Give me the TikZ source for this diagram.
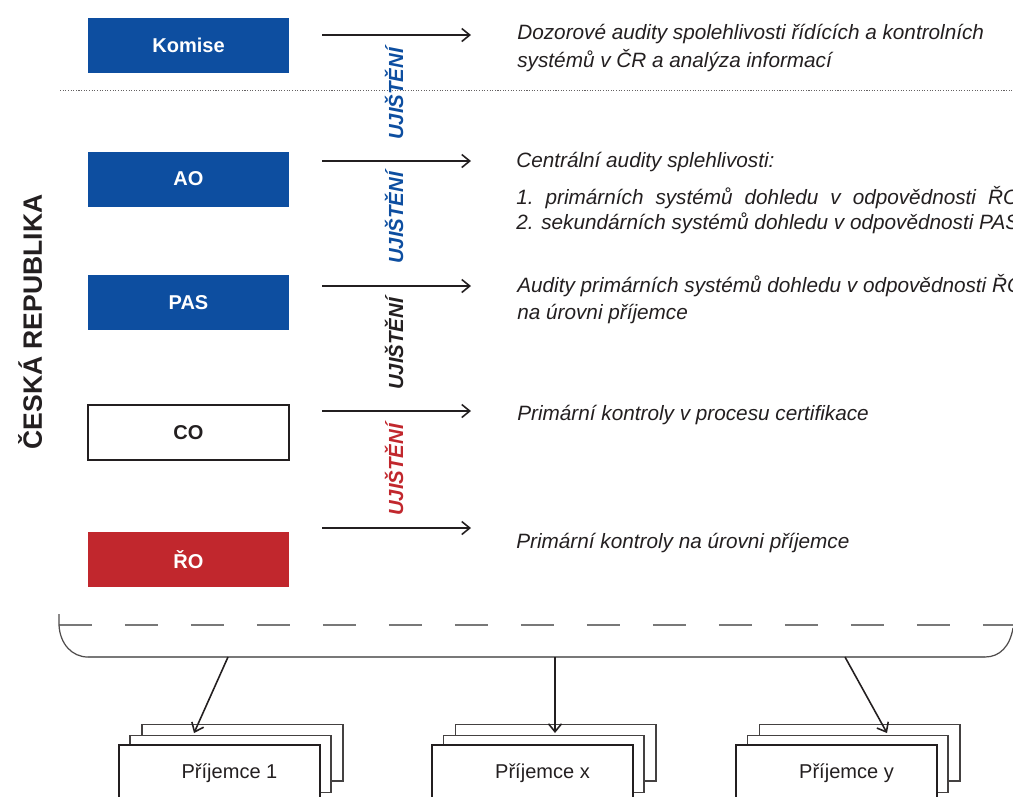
\documentclass[tikz,border=0pt]{standalone}
\usepackage{fontspec}
\setmainfont{Liberation Sans}
\usetikzlibrary{arrows.meta,positioning}
\definecolor{eublue}{RGB}{13,78,160}
\definecolor{crred}{RGB}{193,39,45}
\definecolor{ink}{RGB}{35,31,32}
\definecolor{rulegray}{RGB}{120,120,120}
\newlength\listw
\AtBeginDocument{\settowidth\listw{\fontsize{11.8}{14}\selectfont\itshape 2. sekundárních systémů dohledu v odpovědnosti PAS}}
\tikzset{
  orgbox/.style={minimum width=4.02cm, minimum height=1.1cm, inner sep=0pt,
    font=\fontsize{11.4}{13}\selectfont\bfseries},
  bluebox/.style={orgbox, fill=eublue, text=white},
  redbox/.style={orgbox, fill=crred, text=white},
  whitebox/.style={orgbox, draw=ink, line width=1pt, text=ink},
  flow/.style={-{Straight Barb[length=1.6mm,width=2.6mm]}, line width=0.9pt, ink},
  desc/.style={anchor=base west, inner sep=0pt, align=left, text=ink,
    font=\fontsize{11.8}{15.6}\selectfont\itshape},
  assur/.style={rotate=90, inner sep=0pt, font=\fontsize{11.6}{13}\selectfont\bfseries\itshape},
  sheet/.style={draw=ink!85, fill=white, line width=0.6pt, minimum width=4.02cm,
    minimum height=1.14cm, inner sep=0pt},
  frontsheet/.style={sheet, draw=ink, line width=1.2pt},
}
\begin{document}
\begin{tikzpicture}[x=0.02cm, y=-0.02cm]
  \useasboundingbox (0,0) rectangle (1013,796);
  % country label
  \node[rotate=90, font=\fontsize{15.1}{17}\selectfont\bfseries, text=ink] (cr) at (30,322) {ČESKÁ REPUBLIKA};
  % bodies
  \node[bluebox] (komise) at (188.5,45.5) {Komise};
  \node[bluebox] (ao) at (188.5,179) {AO};
  \node[bluebox] (pas) at (188.5,302.5) {PAS};
  \node[whitebox] (co) at (188.5,432.5) {CO};
  \node[redbox] (ro) at (188.5,559.5) {ŘO};
  % EU / CR divide
  \draw[ink!70, line width=0.5pt, dash pattern=on 0.6pt off 0.9pt] (60,90) coordinate (divl) -- (1013,90) coordinate (divr);
  % assurance arrows
  \foreach \y/\n in {35/komise, 161/ao, 286/pas, 411/co, 528/ro}
    \draw[flow] (322,\y) coordinate (\n-s) -- (471,\y) coordinate (\n-t);
  % assurance labels
  \foreach \y/\c [count=\i] in {94/eublue, 218/eublue, 344/ink, 470/crred}
    \node[assur, text=\c] (uj\i) at (394,\y) {UJIŠTĚNÍ};
  % descriptions (anchored at the last line)
  \node[desc] (dkomise) at (517,67) {Dozorové audity spolehlivosti řídících a kontrolních\\systémů v ČR a analýza informací};
  \node[desc] (dao) at (516,167) {Centrální audity splehlivosti:};
  \node[desc, font=\fontsize{11.8}{14.2}\selectfont\itshape] (dlist) at (516,229)
    {\makebox[\listw][s]{\frenchspacing 1. primárních systémů dohledu v odpovědnosti ŘO}\\2. sekundárních systémů dohledu v odpovědnosti PAS};
  \node[desc, font=\fontsize{11.8}{15.3}\selectfont\itshape] (dpas) at (517,319) {Audity primárních systémů dohledu v odpovědnosti ŘO\\na úrovni příjemce};
  \node[desc] (dco) at (517,420) {Primární kontroly v procesu certifikace};
  \node[desc] (dro) at (516,548) {Primární kontroly na úrovni příjemce};
  % recipients bracket
  \draw[rulegray, line width=0.8pt, dash pattern=on 0.66cm off 0.66cm] (59,625) -- (1013,625);
  \draw[ink!80, line width=0.7pt] (59,614) -- (59,625) .. controls (60,644) and (72,657) .. (88,657);
  \draw[rulegray, line width=0.8pt] (88,657) -- (985,657);
  \draw[ink!80, line width=0.7pt] (985,657) .. controls (1000,657) and (1010,646) .. (1013,628);
  % recipients
  \foreach \n/\x/\t in {p1/219.5/Příjemce 1, px/532.5/Příjemce x, py/836.5/Příjemce y} {
    \node[sheet] (\n-back) at (\x+23,752.5) {};
    \node[sheet] (\n-mid) at (\x+11,764) {};
    \node[frontsheet] (\n) at (\x,773.5) {};
    \node[font=\fontsize{11.4}{13}\selectfont, text=ink] (\n-lab) at (\x+10,773) {\t};
  }
  \coordinate (b1) at (228,657);
  \coordinate (b2) at (555,657);
  \coordinate (b3) at (845,657);
  \coordinate (t1) at (194,733);
  \coordinate (t2) at (555,733);
  \coordinate (t3) at (887,733);
  \draw[flow] (b1) -- (t1);
  \draw[flow] (b2) -- (t2);
  \draw[flow] (b3) -- (t3);
\end{tikzpicture}
\end{document}
